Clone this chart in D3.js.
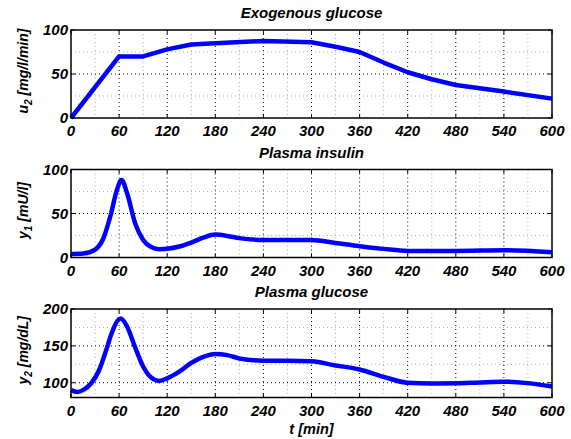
<!DOCTYPE html>
<html>
<head>
<meta charset="utf-8">
<script src="https://cdn.jsdelivr.net/npm/d3@7"></script>
<style>
  body { margin: 0; background: #fff; }
  text { font-family: "Liberation Sans", Arial, sans-serif; font-weight: bold; font-style: italic; fill: #000; }
</style>
</head>
<body>
<svg id="chart" width="571" height="439"></svg>
<script>
// dati
const timeTicks = [0, 60, 120, 180, 240, 300, 360, 420, 480, 540, 600]

const u2Time = [0, 60, 90, 120, 150, 180, 240, 300, 330, 360, 390, 420, 450, 480, 540, 600]
const u2Values = [0, 70, 70, 78, 83.5, 85, 87.5, 86, 81, 75, 63, 52, 44, 37.5, 30, 22]

const insulinTime = [0, 15, 30, 40, 50, 57, 63, 70, 80, 90, 100, 110, 120, 135, 150, 165, 180, 195, 210, 240, 300, 330, 360, 390, 420, 480, 540, 600]
const insulinValues = [4, 4.5, 9, 21, 50, 76, 88, 73, 39, 20, 12, 9.5, 10, 12.5, 17, 22.5, 26, 24.5, 22, 20, 20, 16.5, 12.8, 9.8, 7.5, 7.5, 8.2, 6]

const glucoseTime = [0, 8, 15, 25, 35, 45, 50, 62, 70, 80, 90, 100, 110, 120, 135, 150, 165, 180, 195, 210, 240, 270, 300, 330, 360, 390, 420, 450, 480, 510, 540, 570, 600]
const glucoseValues = [90, 87.5, 90, 99, 117, 148, 165, 187, 176, 148, 122, 107, 102.5, 106, 115, 127, 135, 139, 137.5, 133, 130, 130, 129, 123.5, 118, 108, 100, 99, 99.3, 100.5, 101.4, 99.5, 95]

const svg = d3.select('#chart')

// scala comune per l'asse x
const xScale = d3.scaleLinear().domain([0, 600]).range([71, 552])

const panels = [
  { title: 'Exogenous glucose', label: ['u', '2', ' [mg/l/min]'], time: u2Time, values: u2Values,
    domain: [0, 100], ticks: [0, 50, 100], minor: [25, 75], top: 30, bottom: 118, curve: d3.curveLinear },
  { title: 'Plasma insulin', label: ['y', '1', ' [mU/l]'], time: insulinTime, values: insulinValues,
    domain: [0, 100], ticks: [0, 50, 100], minor: [25, 75], top: 169.5, bottom: 257.5, curve: d3.curveMonotoneX },
  { title: 'Plasma glucose', label: ['y', '2', ' [mg/dL]'], time: glucoseTime, values: glucoseValues,
    domain: [80, 200], ticks: [100, 150, 200], minor: [125, 175], top: 309, bottom: 397.5, curve: d3.curveMonotoneX }
]

const minorX = d3.range(30, 600, 60)

panels.forEach(p => {
  const yScale = d3.scaleLinear().domain(p.domain).range([p.bottom, p.top])
  const g = svg.append('g')

  // griglia minore
  g.selectAll('.mx').data(minorX).enter().append('line')
    .attr('x1', d => xScale(d)).attr('x2', d => xScale(d))
    .attr('y1', p.top).attr('y2', p.bottom)
    .style('stroke', '#aaa').style('stroke-dasharray', '1,3')
  g.selectAll('.my').data(p.minor).enter().append('line')
    .attr('x1', xScale(0)).attr('x2', xScale(600))
    .attr('y1', d => yScale(d)).attr('y2', d => yScale(d))
    .style('stroke', '#aaa').style('stroke-dasharray', '1,3')

  // griglia maggiore
  g.selectAll('.gx').data(timeTicks.slice(1, -1)).enter().append('line')
    .attr('x1', d => xScale(d)).attr('x2', d => xScale(d))
    .attr('y1', p.top).attr('y2', p.bottom)
    .style('stroke', '#000').style('stroke-dasharray', '1,3')
  g.selectAll('.gy').data(p.ticks.filter(t => t > p.domain[0] && t < p.domain[1])).enter().append('line')
    .attr('x1', xScale(0)).attr('x2', xScale(600))
    .attr('y1', d => yScale(d)).attr('y2', d => yScale(d))
    .style('stroke', '#000').style('stroke-dasharray', '1,3')

  // tacche interne
  timeTicks.forEach(t => {
    g.append('line').attr('x1', xScale(t)).attr('x2', xScale(t)).attr('y1', p.bottom).attr('y2', p.bottom - 4).style('stroke', '#000')
    g.append('line').attr('x1', xScale(t)).attr('x2', xScale(t)).attr('y1', p.top).attr('y2', p.top + 4).style('stroke', '#000')
  })
  p.ticks.forEach(t => {
    g.append('line').attr('x1', xScale(0)).attr('x2', xScale(0) + 4).attr('y1', yScale(t)).attr('y2', yScale(t)).style('stroke', '#000')
    g.append('line').attr('x1', xScale(600)).attr('x2', xScale(600) - 4).attr('y1', yScale(t)).attr('y2', yScale(t)).style('stroke', '#000')
  })

  // curva
  const line = d3.line()
    .x((d, i) => xScale(p.time[i]))
    .y(d => yScale(d))
    .curve(p.curve)
  g.append('path')
    .datum(p.values)
    .attr('d', line)
    .style('fill', 'none')
    .style('stroke', '#0000ff')
    .style('stroke-width', 4.5)
    .style('stroke-linejoin', 'round')

  // cornice
  g.append('rect')
    .attr('x', xScale(0)).attr('y', p.top)
    .attr('width', xScale(600) - xScale(0)).attr('height', p.bottom - p.top)
    .style('fill', 'none').style('stroke', '#000').style('stroke-width', 1.5)

  // etichette assi
  g.selectAll('.xt').data(timeTicks).enter().append('text')
    .attr('x', d => xScale(d)).attr('y', p.bottom + 18)
    .style('text-anchor', 'middle').style('font-size', '15px')
    .text(d => d)
  g.selectAll('.yt').data(p.ticks).enter().append('text')
    .attr('x', xScale(0) - 3).attr('y', d => yScale(d)).attr('dy', '0.36em')
    .style('text-anchor', 'end').style('font-size', '15px')
    .text(d => d)

  // titolo
  g.append('text')
    .attr('x', (xScale(0) + xScale(600)) / 2).attr('y', p.top - 12)
    .style('text-anchor', 'middle').style('font-size', '15px')
    .text(p.title)

  // etichetta asse y con pedice
  const yl = g.append('text')
    .attr('transform', `translate(28, ${(p.top + p.bottom) / 2 - 3}) rotate(-90)`)
    .style('text-anchor', 'middle').style('font-size', '14px')
  yl.append('tspan').text(p.label[0])
  yl.append('tspan').attr('dy', 4).style('font-size', '10px').text(p.label[1])
  yl.append('tspan').attr('dy', -4).text(p.label[2])
})

// etichetta asse x
svg.append('text')
  .attr('x', (xScale(0) + xScale(600)) / 2).attr('y', 434)
  .style('text-anchor', 'middle').style('font-size', '14.5px')
  .text('t [min]')
</script>
</body>
</html>
